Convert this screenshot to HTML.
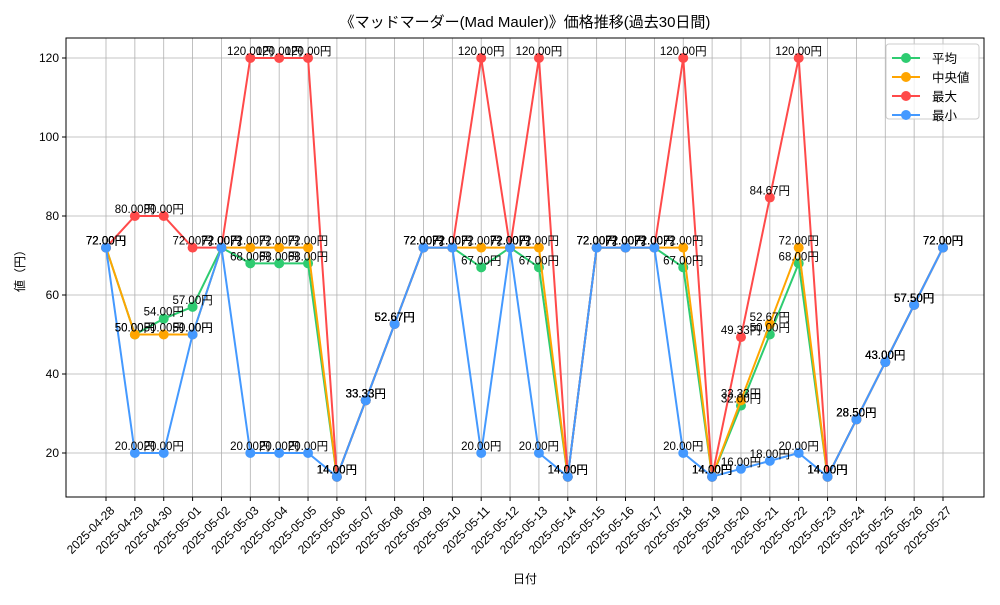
<!DOCTYPE html>
<html><head><meta charset="utf-8"><style>
body{margin:0;background:#fff}
svg text{font-family:"Liberation Sans","Noto Sans CJK JP",sans-serif;}
</style></head><body>
<svg id="c" width="1000" height="600" xmlns="http://www.w3.org/2000/svg">
<rect width="1000" height="600" fill="#fff"/>
<text x="525" y="27" text-anchor="middle" font-size="15">《マッドマーダー(Mad Mauler)》価格推移(過去30日間)</text>
<g id="grid"></g>
<g id="series"></g>
<g id="labels"></g>
<rect x="66" y="38" width="918" height="459" fill="none" stroke="#000" stroke-width="1"/>
<g id="axes"></g>
<text x="525" y="583" text-anchor="middle" font-size="12">日付</text>
<text transform="translate(24,268) rotate(-90)" text-anchor="middle" font-size="12">値（円）</text>
<g>
<rect x="886" y="44" width="93" height="75" rx="3" fill="#fff" fill-opacity="0.8" stroke="#ccc"/>
<g id="legend"></g>
</g>
</svg>
<script>
const dates=["2025-04-28","2025-04-29","2025-04-30","2025-05-01","2025-05-02","2025-05-03","2025-05-04","2025-05-05","2025-05-06","2025-05-07","2025-05-08","2025-05-09","2025-05-10","2025-05-11","2025-05-12","2025-05-13","2025-05-14","2025-05-15","2025-05-16","2025-05-17","2025-05-18","2025-05-19","2025-05-20","2025-05-21","2025-05-22","2025-05-23","2025-05-24","2025-05-25","2025-05-26","2025-05-27"];
const avgVals=[72,50,54,57,72,68,68,68,14,33.33,52.67,72,72,67,72,67,14,72,72,72,67,14,32,50,68,14,28.5,43,57.5,72];
const medVals=[72,50,50,50,72,72,72,72,14,33.33,52.67,72,72,72,72,72,14,72,72,72,72,14,33.33,52.67,72,14,28.5,43,57.5,72];
const maxVals=[72,80,80,72,72,120,120,120,14,33.33,52.67,72,72,120,72,120,14,72,72,72,120,14,49.33,84.67,120,14,28.5,43,57.5,72];
const minVals=[72,20,20,50,72,20,20,20,14,33.33,52.67,72,72,20,72,20,14,72,72,72,20,14,16,18,20,14,28.5,43,57.5,72];
const yTicks=[20,40,60,80,100,120];
const seriesNames=["平均","中央値","最大","最小"];
const NS="http://www.w3.org/2000/svg";
const X=i=>106+i*(943-106)/(dates.length-1);
const Y=v=>453-(v-20)*(453-58)/100;
function mk(tag,attrs,parent){const e=document.createElementNS(NS,tag);for(const k in attrs)e.setAttribute(k,attrs[k]);parent.appendChild(e);return e;}
const grid=document.getElementById('grid'),axes=document.getElementById('axes');
dates.forEach((d,i)=>{
  const l=mk('line',{x1:X(i),x2:X(i),y1:38,y2:497,stroke:'#b0b0b0','stroke-width':0.8},grid);
  
  
  mk('line',{x1:X(i),x2:X(i),y1:497,y2:501,stroke:'#000'},axes);
  const t=mk('text',{transform:`translate(${X(i)+3},${505}) rotate(-45)`,'text-anchor':'end','font-size':12,'dominant-baseline':'hanging'},axes);
  t.textContent=d;
  
  
});
yTicks.forEach(v=>{
  const l=mk('line',{x1:66,x2:984,y1:Y(v),y2:Y(v),stroke:'#b0b0b0','stroke-width':0.8},grid);
  
  
  mk('line',{x1:62,x2:66,y1:Y(v),y2:Y(v),stroke:'#000'},axes);
  const t=mk('text',{x:59,y:Y(v)+4,'text-anchor':'end','font-size':12},axes);
  t.textContent=v;
  
  
});
const series=[[avgVals,'#2ecc71'],[medVals,'#ffa500'],[maxVals,'#ff4a4a'],[minVals,'#4499ff']];
const sg=document.getElementById('series'),lg=document.getElementById('labels');
series.forEach(([vals,col],si)=>{
  const p=mk('polyline',{points:vals.map((v,i)=>X(i)+','+Y(v)).join(' '),fill:'none',stroke:col,'stroke-width':2},sg);
  
  
  vals.forEach((v,i)=>{
    const c=mk('circle',{cx:X(i),cy:Y(v),r:5,fill:col},sg);
    
    
  });
});
series.forEach(([vals,col],si)=>{
  vals.forEach((v,i)=>{
    const t=mk('text',{x:X(i),y:Y(v)-3,'text-anchor':'middle','font-size':11.5},lg);
    t.textContent=v.toFixed(2)+'円';
    
    
  });
});
const lgd=document.getElementById('legend');
series.forEach(([vals,col],si)=>{
  const y=58+si*19;
  mk('line',{x1:892,x2:920,y1:y,y2:y,stroke:col,'stroke-width':2},lgd);
  mk('circle',{cx:906,cy:y,r:5,fill:col},lgd);
  const t=mk('text',{x:932,y:y+5,'font-size':12.5},lgd);
  t.textContent=seriesNames[si];
  
  
});
</script>
</body></html>
